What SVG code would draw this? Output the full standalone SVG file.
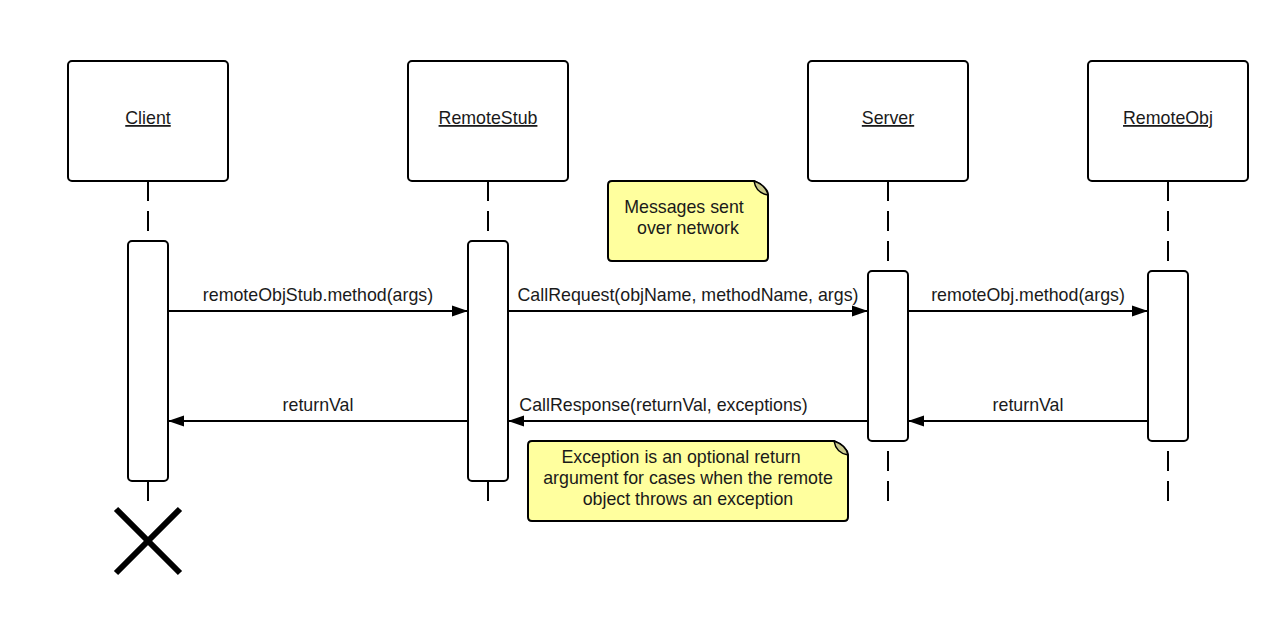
<svg xmlns="http://www.w3.org/2000/svg" width="1279" height="622" viewBox="0 0 1279 622">
<style>
  text { font-family: "Liberation Sans", Arial, sans-serif; font-size: 17.8px; fill: #1a1a1a; }
  .head { fill: #fff; stroke: #000; stroke-width: 2; }
  .act { fill: #fff; stroke: #000; stroke-width: 2; }
  .life { stroke: #000; stroke-width: 2; stroke-dasharray: 20 10; fill: none; }
  .msg { stroke: #000; stroke-width: 2; fill: none; }
  .note { fill: #ffff9e; stroke: #000; stroke-width: 2; stroke-linejoin: round; }
  .fold { fill: #c9c98c; stroke: #000; stroke-width: 1.5; }
  .lbl { text-decoration: underline; }
</style>
<defs>
  <marker id="arr" markerWidth="18" markerHeight="14" refX="16" refY="7" orient="auto" markerUnits="userSpaceOnUse">
    <path d="M0,1.5 L16,7 L0,12.5 Z" fill="#000"/>
  </marker>
</defs>
<rect width="1279" height="622" fill="#fff"/>

<g id="lifelines">
  <line class="life" x1="148" y1="181" x2="148" y2="241"/>
  <line class="msg" x1="148" y1="481" x2="148" y2="501"/>
  <line class="life" x1="488" y1="181" x2="488" y2="241"/>
  <line class="msg" x1="488" y1="481" x2="488" y2="501"/>
  <line class="life" x1="888" y1="181" x2="888" y2="271"/>
  <line class="life" x1="888" y1="451" x2="888" y2="501"/>
  <line class="life" x1="1168" y1="181" x2="1168" y2="271"/>
  <line class="life" x1="1168" y1="451" x2="1168" y2="501"/>
</g>

<g id="client">
  <rect class="head" x="68" y="61" width="160" height="120" rx="4"/>
  <text class="lbl" x="148" y="124" text-anchor="middle">Client</text>
  <rect class="act" x="128" y="241" width="40" height="240" rx="4"/>
  <path d="M116,509 L180,573 M180,509 L116,573" stroke="#000" stroke-width="6" fill="none"/>
</g>

<g id="remotestub">
  <rect class="head" x="408" y="61" width="160" height="120" rx="4"/>
  <text class="lbl" x="488" y="124" text-anchor="middle">RemoteStub</text>
  <rect class="act" x="468" y="241" width="40" height="240" rx="4"/>
</g>

<g id="server">
  <rect class="head" x="808" y="61" width="160" height="120" rx="4"/>
  <text class="lbl" x="888" y="124" text-anchor="middle">Server</text>
  <rect class="act" x="868" y="271" width="40" height="170" rx="4"/>
</g>

<g id="remoteobj">
  <rect class="head" x="1088" y="61" width="160" height="120" rx="4"/>
  <text class="lbl" x="1168" y="124" text-anchor="middle">RemoteObj</text>
  <rect class="act" x="1148" y="271" width="40" height="170" rx="4"/>
</g>

<g id="note1">
  <path class="note" d="M612,181 L754,181 Q768,188 768,195 L768,257 Q768,261 764,261 L612,261 Q608,261 608,257 L608,185 Q608,181 612,181 Z"/>
  <path class="fold" d="M754,181 Q756,193 768,195 Q766,185 754,181 Z"/>
  <text x="684" y="213" text-anchor="middle">Messages sent</text>
  <text x="688" y="234" text-anchor="middle">over network</text>
</g>

<g id="note2">
  <path class="note" d="M532,441 L834,441 Q848,448 848,455 L848,517 Q848,521 844,521 L532,521 Q528,521 528,517 L528,445 Q528,441 532,441 Z"/>
  <path class="fold" d="M834,441 Q836,453 848,455 Q846,445 834,441 Z"/>
  <text x="681" y="463" text-anchor="middle">Exception is an optional return</text>
  <text x="688" y="484" text-anchor="middle">argument for cases when the remote</text>
  <text x="688" y="505" text-anchor="middle">object throws an exception</text>
</g>

<g id="connectors">
  <line class="msg" x1="168" y1="311" x2="468" y2="311" marker-end="url(#arr)"/>
  <text x="318" y="301" text-anchor="middle">remoteObjStub.method(args)</text>
  <line class="msg" x1="508" y1="311" x2="868" y2="311" marker-end="url(#arr)"/>
  <text x="688" y="301" text-anchor="middle">CallRequest(objName, methodName, args)</text>
  <line class="msg" x1="908" y1="311" x2="1148" y2="311" marker-end="url(#arr)"/>
  <text x="1028" y="301" text-anchor="middle">remoteObj.method(args)</text>
  <line class="msg" x1="1148" y1="421" x2="908" y2="421" marker-end="url(#arr)"/>
  <text x="1028" y="411" text-anchor="middle">returnVal</text>
  <line class="msg" x1="868" y1="421" x2="508" y2="421" marker-end="url(#arr)"/>
  <text x="663.5" y="411" text-anchor="middle">CallResponse(returnVal, exceptions)</text>
  <line class="msg" x1="468" y1="421" x2="168" y2="421" marker-end="url(#arr)"/>
  <text x="318" y="411" text-anchor="middle">returnVal</text>
</g>
</svg>
